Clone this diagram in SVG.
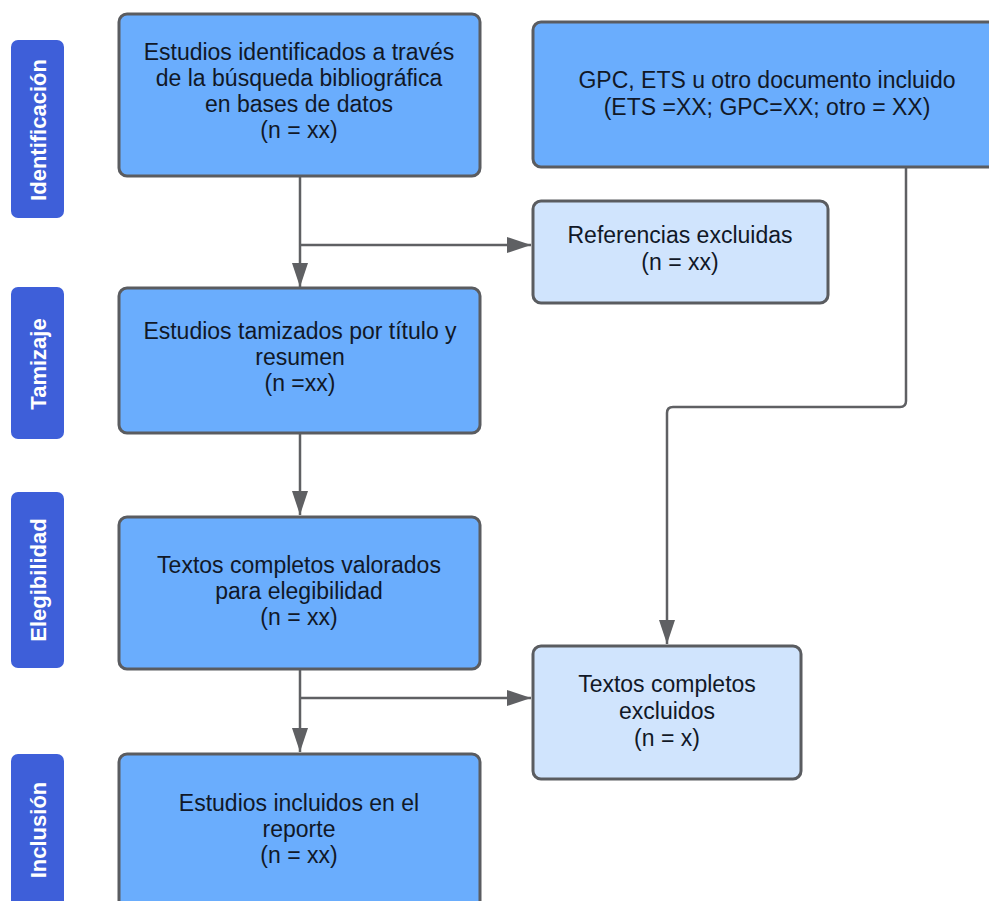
<svg xmlns="http://www.w3.org/2000/svg" width="989" height="901" viewBox="0 0 989 901">
<style>
.box{fill:#6aadfd;stroke:#5a5c60;stroke-width:3}
.lbox{fill:#d0e4fd;stroke:#5a5c60;stroke-width:3}
.side{fill:#3e5fd9}
.t{font-family:"Liberation Sans",Arial,sans-serif;font-size:23px;fill:#111827;text-anchor:middle}
.s{font-family:"Liberation Sans",Arial,sans-serif;font-size:22px;font-weight:bold;fill:#ffffff;text-anchor:middle}
.c{fill:none;stroke:#5f6063;stroke-width:2.5}
</style>
<defs>
<marker id="ah" viewBox="0 0 24 16" refX="24" refY="8" markerWidth="24" markerHeight="16" markerUnits="userSpaceOnUse" orient="auto">
<path d="M0,0 L24,8 L0,16 Z" fill="#5f6063"/>
</marker>
</defs>
<rect width="989" height="901" fill="#ffffff"/>
<g id="connectors">
<path class="c" d="M300,176 V287" marker-end="url(#ah)"/>
<path class="c" d="M300,245 H531" marker-end="url(#ah)"/>
<path class="c" d="M300,433 V515" marker-end="url(#ah)"/>
<path class="c" d="M300,669 V752" marker-end="url(#ah)"/>
<path class="c" d="M300,698 H531" marker-end="url(#ah)"/>
<path class="c" d="M906,167 V401 Q906,407 900,407 H673 Q667,407 667,413 V644" marker-end="url(#ah)"/>
</g>
<g id="label-identificacion">
<rect class="side" x="11" y="40" width="53" height="178" rx="7"/>
<text class="s" transform="translate(46,130) rotate(-90)">Identificación</text>
</g>
<g id="label-tamizaje">
<rect class="side" x="11" y="287" width="53" height="152" rx="7"/>
<text class="s" transform="translate(46,364) rotate(-90)">Tamizaje</text>
</g>
<g id="label-elegibilidad">
<rect class="side" x="11" y="492" width="53" height="176" rx="7"/>
<text class="s" transform="translate(46,580) rotate(-90)">Elegibilidad</text>
</g>
<g id="label-inclusion">
<rect class="side" x="11" y="754" width="53" height="170" rx="7"/>
<text class="s" transform="translate(46,830) rotate(-90)">Inclusión</text>
</g>
<g id="node-identificados">
<rect class="box" x="119" y="14" width="361" height="162" rx="8"/>
<text class="t" x="299" y="60">Estudios identificados a través</text>
<text class="t" x="299" y="86">de la búsqueda bibliográfica</text>
<text class="t" x="299" y="112">en bases de datos</text>
<text class="t" x="299" y="138">(n = xx)</text>
</g>
<g id="node-gpc">
<rect class="box" x="533" y="22" width="470" height="145" rx="8"/>
<text class="t" x="767" y="88">GPC, ETS u otro documento incluido</text>
<text class="t" x="767" y="115">(ETS =XX; GPC=XX; otro = XX)</text>
</g>
<g id="node-referencias">
<rect class="lbox" x="533" y="201" width="295" height="102" rx="8"/>
<text class="t" x="680" y="243">Referencias excluidas</text>
<text class="t" x="680" y="270">(n = xx)</text>
</g>
<g id="node-tamizados">
<rect class="box" x="119" y="288" width="361" height="145" rx="8"/>
<text class="t" x="300" y="339">Estudios tamizados por título y</text>
<text class="t" x="300" y="365">resumen</text>
<text class="t" x="300" y="391">(n =xx)</text>
</g>
<g id="node-valorados">
<rect class="box" x="119" y="517" width="361" height="152" rx="8"/>
<text class="t" x="299" y="573">Textos completos valorados</text>
<text class="t" x="299" y="599">para elegibilidad</text>
<text class="t" x="299" y="625">(n = xx)</text>
</g>
<g id="node-excluidos">
<rect class="lbox" x="533" y="646" width="268" height="133" rx="8"/>
<text class="t" x="667" y="692">Textos completos</text>
<text class="t" x="667" y="719">excluidos</text>
<text class="t" x="667" y="746">(n = x)</text>
</g>
<g id="node-incluidos">
<rect class="box" x="119" y="754" width="361" height="170" rx="8"/>
<text class="t" x="299" y="811">Estudios incluidos en el</text>
<text class="t" x="299" y="837">reporte</text>
<text class="t" x="299" y="863">(n = xx)</text>
</g>
</svg>
